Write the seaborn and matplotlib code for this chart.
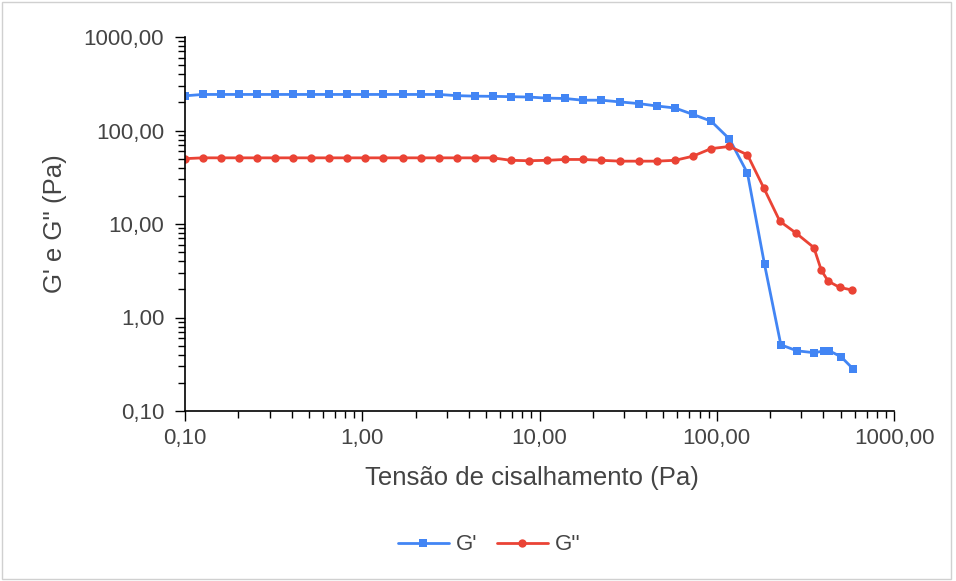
import numpy as np
import pandas as pd
import matplotlib
matplotlib.use("Agg")
import matplotlib.pyplot as plt
from matplotlib.ticker import FixedLocator, FixedFormatter, LogLocator, NullFormatter
from matplotlib.patches import Rectangle
import seaborn as sns

# ---- data ----
stress_gp = [0.100, 0.126, 0.159, 0.201, 0.254, 0.321, 0.406, 0.512, 0.650, 0.822,
             1.04, 1.31, 1.69, 2.15, 2.70, 3.41, 4.31, 5.45, 6.88, 8.69,
             11.0, 13.9, 17.5, 22.3, 28.6, 36.3, 45.8, 58.2, 73.1, 92.9,
             118, 149, 186, 230, 284, 355, 405, 432, 503, 590]
g_storage = [235, 243, 243, 243, 243, 243, 243, 243, 243, 243,
             243, 243, 243, 243, 243, 236, 233, 232, 230, 228,
             222, 220, 211, 211, 202, 194, 183, 174, 149, 126,
             81, 35, 3.7, 0.51, 0.44, 0.42, 0.44, 0.44, 0.38, 0.28]

stress_gpp = [0.100, 0.126, 0.159, 0.201, 0.254, 0.321, 0.406, 0.512, 0.650, 0.822,
              1.04, 1.31, 1.69, 2.15, 2.70, 3.41, 4.31, 5.45, 6.88, 8.69,
              11.0, 13.9, 17.5, 22.3, 28.6, 36.3, 45.8, 58.2, 73.1, 92.9,
              118, 149, 184, 227, 280, 353, 389, 425, 493, 578]
g_loss = [50, 51, 51, 51, 51, 51, 51, 51, 51, 51,
          51, 51, 51, 51, 51, 51, 51, 51, 48, 47.5,
          48, 49, 49, 48, 47, 47, 47, 48, 53, 64,
          67.5, 55, 24.4, 10.7, 8.0, 5.6, 3.2, 2.45, 2.1, 1.97]

series_names = ["G'", "G''"]
series_colors = ["#4285F4", "#EA4335"]
series_markers = ["s", "o"]

tick_values = [0.1, 1, 10, 100, 1000]
tick_labels = ["0,10", "1,00", "10,00", "100,00", "1000,00"]

x_title = "Tensão de cisalhamento (Pa)"
y_title = "G' e G'' (Pa)"

df = pd.concat([
    pd.DataFrame({"stress": stress_gp, "value": g_storage, "series": series_names[0]}),
    pd.DataFrame({"stress": stress_gpp, "value": g_loss, "series": series_names[1]}),
], ignore_index=True)

# ---- figure ----
sns.set_theme(style="white")
plt.rcParams["font.family"] = ["Liberation Sans", "DejaVu Sans"]
text_color = "#444444"

fig = plt.figure(figsize=(9.56, 5.81), dpi=100)
ax = fig.add_axes([185 / 956, 1 - 411 / 581, (894 - 185) / 956, (411 - 37) / 581])

sns.lineplot(data=df, x="stress", y="value", hue="series", style="series",
             palette=dict(zip(series_names, series_colors)),
             markers=dict(zip(series_names, series_markers)),
             dashes=False, estimator=None, sort=False,
             linewidth=2.0, markersize=6, markeredgewidth=0, ax=ax)

ax.set_xscale("log")
ax.set_yscale("log")
ax.set_xlim(0.1, 1000)
ax.set_ylim(0.1, 1000)

for axis in (ax.xaxis, ax.yaxis):
    axis.set_major_locator(FixedLocator(tick_values))
    axis.set_major_formatter(FixedFormatter(tick_labels))
    axis.set_minor_locator(LogLocator(base=10, subs=np.arange(2, 10), numticks=20))
    axis.set_minor_formatter(NullFormatter())

ax.tick_params(which="major", direction="out", length=7, width=1.0, color="black",
               labelsize=16, labelcolor=text_color)
ax.tick_params(axis="y", which="major", pad=8)
ax.tick_params(axis="x", which="major", pad=5)
ax.tick_params(which="minor", direction="out", length=5, width=1.0, color="black")
ax.tick_params(bottom=True, left=True, which="both")

for side in ("top", "right"):
    ax.spines[side].set_visible(False)
for side in ("left", "bottom"):
    ax.spines[side].set_color("black")
    ax.spines[side].set_linewidth(1.2)

ax.set_xlabel(x_title, fontsize=18.5, color=text_color)
ax.set_ylabel(y_title, fontsize=18.5, color=text_color)
ax.xaxis.set_label_coords((532 - 185) / 709, (411 - 466) / 374)
ax.yaxis.set_label_coords((67 - 185) / 709, 0.5)
ax.grid(False)

handles, labels = ax.get_legend_handles_labels()
ax.get_legend().remove()
fig.legend(handles, labels, loc="center", bbox_to_anchor=(489 / 956, 1 - 545 / 581),
           ncol=2, frameon=False, fontsize=16, labelcolor=text_color,
           handlelength=2.3, handletextpad=0.3, columnspacing=0.9)

fig.patches.append(Rectangle((0.002, 0.004), 0.993, 0.992, transform=fig.transFigure,
                             fill=False, edgecolor="#d0d0d0", linewidth=1.0))

fig.savefig("out.png", dpi=100)
